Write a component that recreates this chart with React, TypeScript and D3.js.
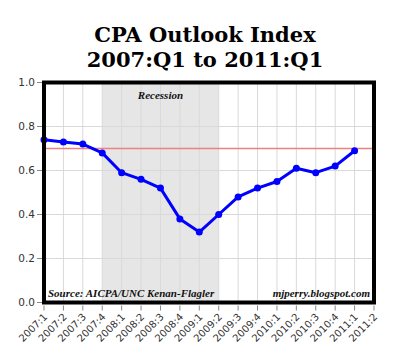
import React from "react";
import * as d3 from "d3";

const quarters = [
  "2007:1", "2007:2", "2007:3", "2007:4",
  "2008:1", "2008:2", "2008:3", "2008:4",
  "2009:1", "2009:2", "2009:3", "2009:4",
  "2010:1", "2010:2", "2010:3", "2010:4",
  "2011:1", "2011:2",
];
const outlook = [
  0.74, 0.73, 0.72, 0.68, 0.59, 0.56, 0.52, 0.38, 0.32, 0.4, 0.48, 0.52,
  0.55, 0.61, 0.59, 0.62, 0.69,
];
const yTicks = [0, 0.2, 0.4, 0.6, 0.8, 1.0];
const recession = ["2007:4", "2009:2"];
const refLevel = 0.7;

const W = 400;
const H = 362;
const margin = { top: 82.5, right: 26, bottom: 59.5, left: 44 };

export default function App() {
  const x = d3
    .scalePoint<string>()
    .domain(quarters)
    .range([margin.left, W - margin.right]);
  const y = d3
    .scaleLinear()
    .domain([0, 1])
    .range([H - margin.bottom, margin.top]);

  const pts = outlook.map((v, i) => ({ q: quarters[i], v }));
  const line = d3
    .line<{ q: string; v: number }>()
    .x((d) => x(d.q)!)
    .y((d) => y(d.v));

  const left = margin.left;
  const right = W - margin.right;
  const top = margin.top;
  const bottom = H - margin.bottom;
  const recX0 = x(recession[0])!;
  const recX1 = x(recession[1])!;
  const titleFont = "Georgia, 'DejaVu Serif', serif";
  const noteFont = "'Liberation Serif', 'Times New Roman', serif";
  const axisFont = "'DejaVu Sans', Arial, sans-serif";

  return (
    <div style={{ position: "absolute", left: 0, top: 0 }}>
      <svg width={W} height={H} style={{ display: "block", background: "#fff" }}>
        <text
          x={205}
          y={42}
          textAnchor="middle"
          fontFamily={titleFont}
          fontWeight="bold"
          fontSize={21}
          fill="#000"
        >
          CPA Outlook Index
        </text>
        <text
          x={205}
          y={67}
          textAnchor="middle"
          fontFamily={titleFont}
          fontWeight="bold"
          fontSize={21}
          fill="#000"
        >
          2007:Q1 to 2011:Q1
        </text>

        {/* recession band */}
        <rect
          x={recX0}
          y={top}
          width={recX1 - recX0}
          height={bottom - top}
          fill="#e6e6e6"
        />

        {/* grid */}
        {quarters.map((q) => (
          <line
            key={q}
            x1={x(q)}
            x2={x(q)}
            y1={top}
            y2={bottom}
            stroke="#d9d9d9"
            strokeWidth={1}
          />
        ))}
        {yTicks.map((t) => (
          <line
            key={t}
            x1={left}
            x2={right}
            y1={y(t)}
            y2={y(t)}
            stroke="#d9d9d9"
            strokeWidth={1}
          />
        ))}

        <text
          x={(recX0 + recX1) / 2}
          y={99}
          textAnchor="middle"
          fontFamily={noteFont}
          fontStyle="italic"
          fontWeight="bold"
          fontSize={11}
          fill="#111"
        >
          Recession
        </text>

        <line
          x1={left}
          x2={right}
          y1={y(refLevel)}
          y2={y(refLevel)}
          stroke="#f08080"
          strokeWidth={1.5}
        />

        <path d={line(pts) ?? ""} fill="none" stroke="#0000ff" strokeWidth={3} strokeLinejoin="round" />
        {pts.map((d) => (
          <circle key={d.q} cx={x(d.q)} cy={y(d.v)} r={3.5} fill="#0000ff" />
        ))}

        <text
          x={left + 4}
          y={297}
          fontFamily={noteFont}
          fontStyle="italic"
          fontWeight="bold"
          fontSize={11}
          fill="#111"
        >
          Source: AICPA/UNC Kenan-Flagler
        </text>
        <text
          x={right - 4}
          y={297}
          textAnchor="end"
          fontFamily={noteFont}
          fontStyle="italic"
          fontWeight="bold"
          fontSize={11}
          fill="#111"
        >
          mjperry.blogspot.com
        </text>

        {/* frame */}
        <rect
          x={left}
          y={top}
          width={right - left}
          height={bottom - top}
          fill="none"
          stroke="#000"
          strokeWidth={4}
        />

        {/* y axis */}
        {yTicks.map((t) => (
          <g key={t} transform={`translate(0,${y(t)})`}>
            <line x1={37} x2={42} stroke="#888" />
            <text
              x={35}
              dy="0.35em"
              textAnchor="end"
              fontFamily={axisFont}
              fontSize={10.5}
              fill="#333"
            >
              {t.toFixed(1)}
            </text>
          </g>
        ))}

        {/* x axis */}
        {quarters.map((q) => (
          <g key={q} transform={`translate(${x(q)},${bottom})`}>
            <line y1={3} y2={8} stroke="#888" />
            <text
              transform="translate(4,15) rotate(-45)"
              textAnchor="end"
              fontFamily={axisFont}
              fontSize={10}
              fill="#333"
            >
              {q}
            </text>
          </g>
        ))}
      </svg>
    </div>
  );
}
